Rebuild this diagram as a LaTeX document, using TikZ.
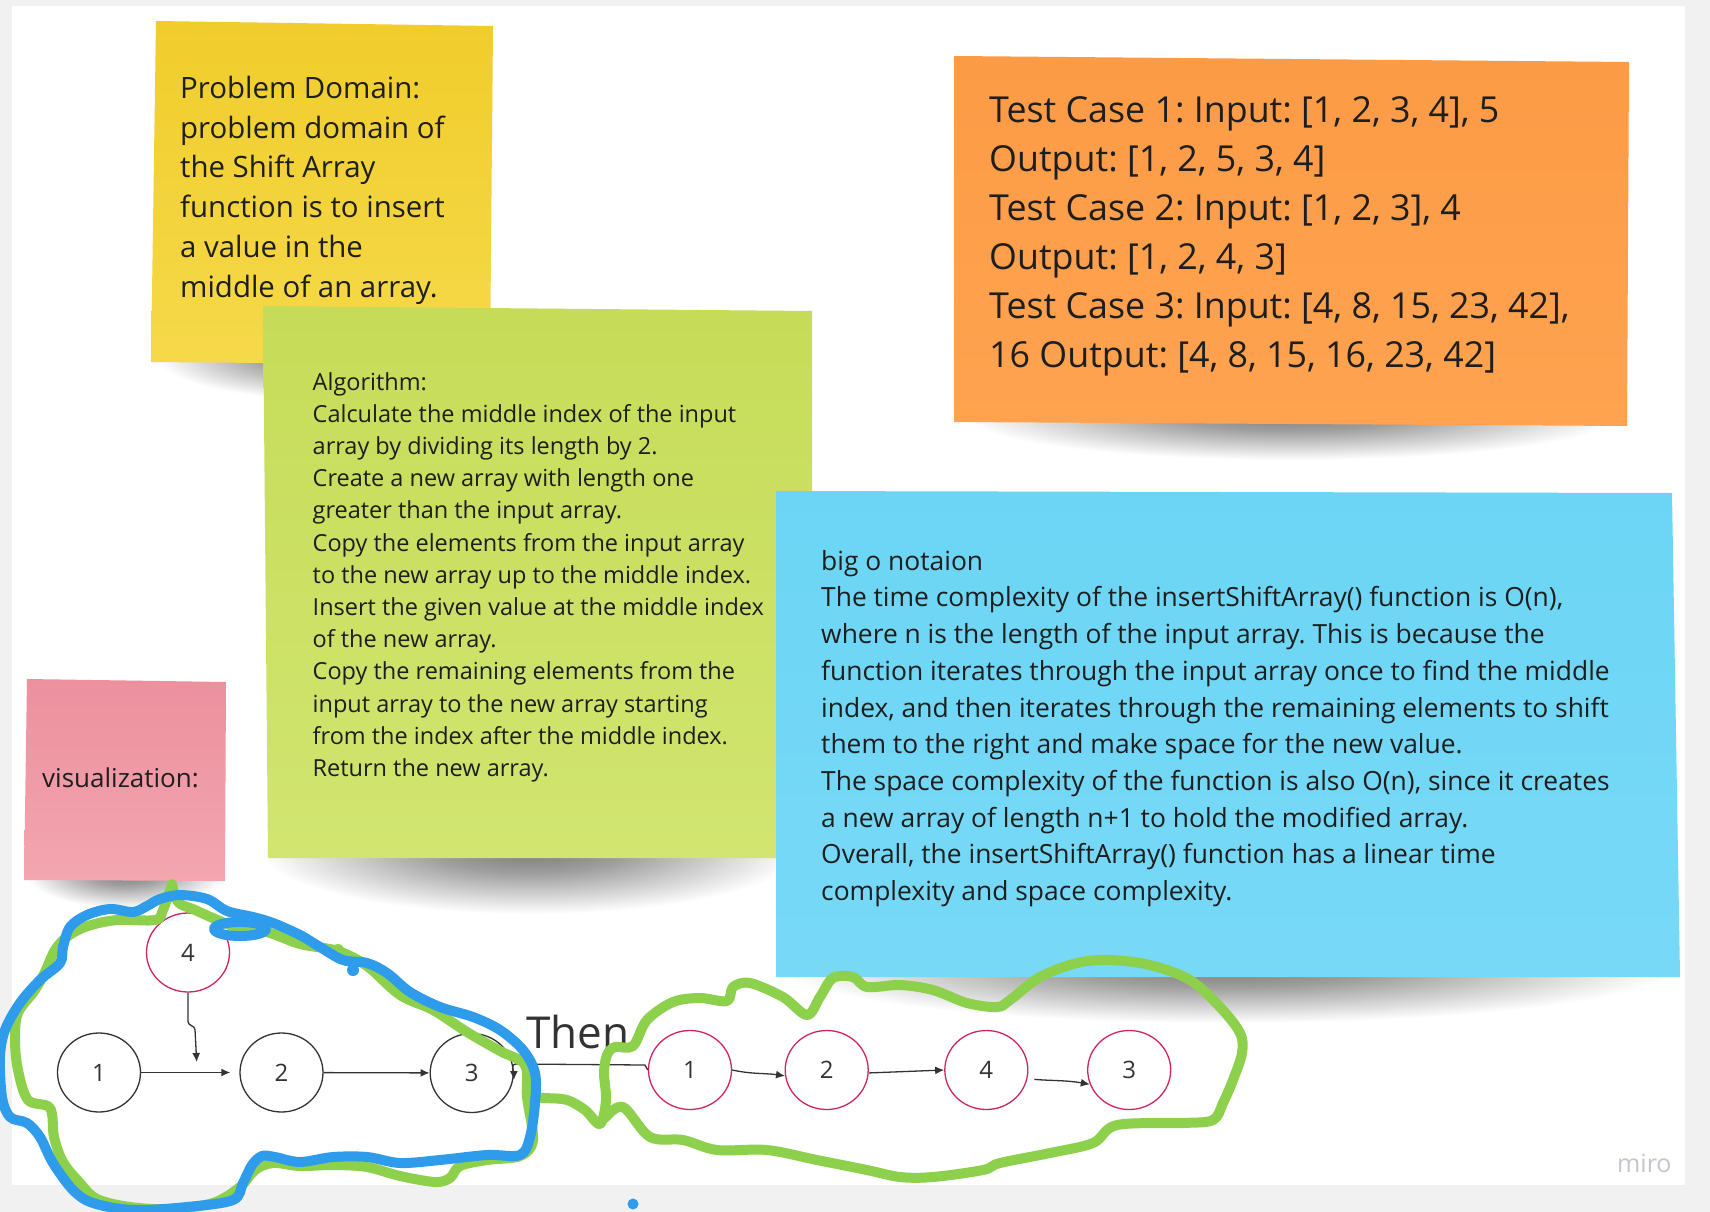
\documentclass[tikz,border=0pt]{standalone}
\usepackage{fontspec}
\setmainfont{Open Sans}
\frenchspacing
\usetikzlibrary{arrows.meta,shapes.geometric}
\definecolor{boardGrey}{HTML}{F1F1F1}
\definecolor{inkDark}{HTML}{1E1E1E}
\definecolor{edgeDark}{HTML}{333333}
\definecolor{nodePink}{HTML}{D1245F}
\definecolor{noteYellowTop}{HTML}{F0CD2B}
\definecolor{noteYellowBot}{HTML}{F6D94A}
\definecolor{noteLimeTop}{HTML}{C6DC58}
\definecolor{noteLimeBot}{HTML}{D1E570}
\definecolor{noteOrangeTop}{HTML}{FC9B46}
\definecolor{noteOrangeBot}{HTML}{FFA350}
\definecolor{noteSkyTop}{HTML}{6CD5F5}
\definecolor{noteSkyBot}{HTML}{78D9F7}
\definecolor{notePinkTop}{HTML}{EC909E}
\definecolor{notePinkBot}{HTML}{F3A6B0}
\definecolor{penGreen}{HTML}{8DD04C}
\definecolor{penBlue}{HTML}{2E9CEA}
\definecolor{logoGrey}{HTML}{C5C5CD}
\pgfdeclareradialshading{noteshadow}{\pgfpoint{0bp}{0bp}}{color(0bp)=(black!52); color(9bp)=(black!38); color(25bp)=(white); color(50bp)=(white)}
\tikzset{
  notefill/.style 2 args={top color=#1, bottom color=#2, draw=none},
  notetext/.style={anchor=north west, inner sep=0pt, align=left, text=inkDark},
  oldnum/.style={ellipse, draw=edgeDark, line width=1.3pt, minimum width=83pt, minimum height=79pt, inner sep=0pt, font=\fontsize{24}{24}\selectfont, text=edgeDark},
  newnum/.style={oldnum, draw=nodePink},
  linkarrow/.style={-{Latex[length=9pt,width=8pt]}, line width=1.3pt, draw=edgeDark},
  penstroke/.style={line width=10pt, line cap=round, line join=round}
}

\begin{document}
\begin{tikzpicture}[x=1pt, y=-1pt]
  \useasboundingbox (0,0) rectangle (1710,1212);
  \fill[boardGrey] (0,0) rectangle (1710,1212);
  \fill[white] (12,6) rectangle (1685,1185);

  % shadows under the notes
  \shade[shading=noteshadow] (320,355) ellipse [x radius=165pt, y radius=44pt];
  \shade[shading=noteshadow] (530,850) ellipse [x radius=270pt, y radius=64pt];
  \shade[shading=noteshadow] (1291,414) ellipse [x radius=330pt, y radius=46pt];
  \shade[shading=noteshadow] (1228,967) ellipse [x radius=445pt, y radius=56pt];
  \shade[shading=noteshadow] (125,872) ellipse [x radius=100pt, y radius=36pt];

  % sticky notes
  \shade[notefill={noteYellowTop}{noteYellowBot}] (156,21) -- (493,26) -- (490,365) -- (151,362) -- cycle;
  \shade[notefill={noteLimeTop}{noteLimeBot}] (263,306) -- (812,311) -- (812,858) -- (268,858) -- cycle;
  \shade[notefill={noteOrangeTop}{noteOrangeBot}] (954,56) -- (1629,62) -- (1627,426) -- (954,422) -- cycle;
  \shade[notefill={noteSkyTop}{noteSkyBot}] (776,491) -- (1672,493) -- (1680,977) -- (776,977) -- cycle;
  \shade[notefill={notePinkTop}{notePinkBot}] (27,679) -- (226,682) -- (225,881) -- (24,880) -- cycle;

  \node[notetext, font=\fontsize{29.4}{39.7}\selectfont] (domain) at (180,76)
    {Problem Domain:\\problem domain of\\the Shift Array\\function is to insert\\a value in the\\middle of an array.};
  \node[notetext, font=\fontsize{23.5}{32.2}\selectfont] (algo) at (312.5,372)
    {Algorithm:\\Calculate the middle index of the input\\array by dividing its length by 2.\\Create a new array with length one\\greater than the input array.\\Copy the elements from the input array\\to the new array up to the middle index.\\Insert the given value at the middle index\\of the new array.\\Copy the remaining elements from the\\input array to the new array starting\\from the index after the middle index.\\Return the new array.};
  \node[notetext, font=\fontsize{35.8}{49}\selectfont] (tests) at (989,96)
    {Test Case 1: Input: [1, 2, 3, 4], 5\\Output: [1, 2, 5, 3, 4]\\Test Case 2: Input: [1, 2, 3], 4\\Output: [1, 2, 4, 3]\\Test Case 3: Input: [4, 8, 15, 23, 42],\\16 Output: [4, 8, 15, 16, 23, 42]};
  \node[notetext, font=\fontsize{26.4}{36.7}\selectfont] (bigo) at (821,550)
    {big o notaion\\The time complexity of the insertShiftArray() function is O(n),\\where n is the length of the input array. This is because the\\function iterates through the input array once to find the middle\\index, and then iterates through the remaining elements to shift\\them to the right and make space for the new value.\\The space complexity of the function is also O(n), since it creates\\a new array of length n+1 to hold the modified array.\\Overall, the insertShiftArray() function has a linear time\\complexity and space complexity.};
  \node[notetext, font=\fontsize{26}{36.7}\selectfont] (vislabel) at (42,768) {visualization:};

  % before
  \node[oldnum] (l1) at (99,1072.5) {1};
  \node[oldnum] (l2) at (281.5,1072.5) {2};
  \node[oldnum] (l3) at (471.7,1073) {3};
  \node[newnum] (l4) at (188,952.5) {4};
  \coordinate (drop) at (196.7,1062);
  \draw[linkarrow, shorten >=9pt] (l1) -- (l2);
  \draw[linkarrow] (l2) -- (l3);
  \draw[linkarrow] (l4.south) -- ++(0,29) to[out=-90,in=90] ++(7,8) -- (drop);

  % after
  \node[newnum] (r1) at (690,1070) {1};
  \node[newnum] (r2) at (826.7,1070) {2};
  \node[newnum] (r4) at (986.3,1070) {4};
  \node[newnum] (r3) at (1129.2,1070) {3};
  \draw[linkarrow] (r1.east) to[out=-12,in=172] (r2.188);
  \draw[linkarrow] (r2.-4) -- (r4.west);
  \draw[linkarrow, shorten <=7pt] (r4.-12) to[out=-5,in=170] (r3.200);

  \coordinate (back) at (516,1064);
  \draw[linkarrow] (r1.west) -- ++(-3,-5) -- (back) to[out=180,in=90] ([yshift=-7pt]l3.east);
  \node[anchor=base west, inner sep=0pt, font=\fontsize{44}{44}\selectfont, text=edgeDark] (thenlbl) at (526,1048) {Then};

  % pen strokes
  \draw[penstroke, penGreen] plot[smooth, tension=0.55] coordinates {
    (172,884) (178,902) (195,910) (233,926) (267,932) (300,944) (338,951) (367,966)
    (400,995) (433,1010) (467,1032) (500,1051) (525,1065) (527,1097) (533,1140)
    (520,1156) (487,1160) (460,1166) (450,1178) (435,1182) (400,1176) (367,1167)
    (333,1165) (300,1166) (273,1163) (255,1170) (240,1187) (213,1203) (170,1209)
    (130,1207) (97,1199) (80,1183) (63,1162) (54,1137) (50,1108) (28,1100) (18,1070)
    (15,1040) (18,1013) (35,990) (45,972) (55,950) (68,936) (88,926) (117,920)
    (155,920) (163,910) (172,884)};
  \draw[penstroke, penGreen] plot[smooth, tension=0.55] coordinates {
    (527,1097) (545,1098) (567,1100) (585,1110) (600,1124) (606,1100) (604,1073)
    (607,1055) (615,1047) (633,1046) (647,1020) (673,1002) (700,998) (727,1001)
    (733,987) (750,983) (783,997) (807,1015) (820,997) (833,978) (853,977) (867,987)
    (900,985) (933,990) (967,1003) (997,1007) (1010,1000) (1040,977) (1077,963)
    (1110,960) (1150,965) (1190,980) (1220,1007) (1240,1033) (1242,1053) (1233,1080)
    (1223,1103) (1213,1120) (1183,1123) (1117,1125) (1093,1143) (1050,1153)
    (1000,1163) (983,1170) (933,1177) (900,1177) (867,1170) (817,1160) (767,1150)
    (717,1150) (683,1140) (650,1137) (623,1107) (605,1118)};
  \fill[penGreen] (338,950) circle [radius=6pt];
  \draw[penstroke, penBlue] plot[smooth cycle, tension=0.55] coordinates {
    (70,927) (87,915) (110,909) (133,912) (147,906) (160,899) (180,895) (207,899)
    (227,911) (253,917) (273,923) (300,935) (320,947) (343,960) (367,963) (387,973)
    (410,992) (440,1007) (473,1017) (500,1030) (523,1050) (535,1073) (535,1103)
    (530,1137) (520,1155) (487,1155) (440,1160) (400,1163) (367,1157) (333,1157)
    (300,1162) (275,1157) (262,1156) (252,1165) (243,1183) (233,1200) (187,1207)
    (133,1210) (93,1203) (73,1190) (53,1163) (40,1137) (27,1123) (10,1117) (2,1097)
    (0,1057) (5,1030) (20,1003) (40,980) (60,963) (63,947)};
  \draw[penstroke, penBlue] (240,929) ellipse [x radius=26pt, y radius=7pt];
  \fill[penBlue] (353,970) circle [radius=6pt];
  \fill[penBlue] (633,1204) circle [radius=5.5pt];

  \node[anchor=base west, inner sep=0pt, font=\fontsize{25}{25}\selectfont, text=logoGrey] (logo) at (1617,1172) {miro};
\end{tikzpicture}
\end{document}
